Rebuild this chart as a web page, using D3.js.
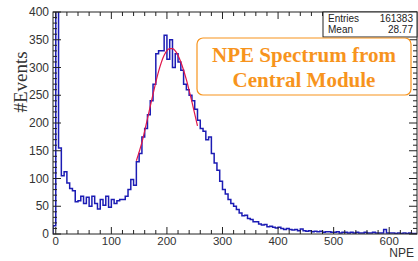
<!DOCTYPE html>
<html>
<head>
<meta charset="utf-8">
<script src="https://cdn.jsdelivr.net/npm/d3@7"></script>
<style>
  body { margin: 0; background: #fff; }
  svg { display: block; }
</style>
</head>
<body>
<svg id="chart" width="418" height="261"></svg>
<script>
// histogram: 5 NPE bins starting at -5
const binStart = -5;
const binWidth = 5;
const counts = [
  15, 1000, 155, 105, 112, 92, 82, 78, 58, 60,
  68, 55, 66, 50, 68, 55, 45, 62, 52, 68,
  48, 62, 55, 60, 62, 62, 68, 80, 98, 88,
  130, 145, 175, 190, 215, 240, 270, 325, 330, 330,
  358, 315, 350, 300, 325, 310, 295, 270, 260, 250,
  240, 225, 205, 190, 185, 170, 175, 145, 128, 115,
  95, 80, 72, 62, 55, 50, 44, 38, 33, 34,
  28, 26, 22, 22, 18, 16, 17, 13, 14, 12,
  11, 12, 10, 8, 10, 8, 7, 8, 6, 9,
  6, 5, 6, 4, 5, 4, 5, 3, 4, 4,
  3, 3, 4, 2, 3, 3, 2, 3, 2, 3,
  2, 2, 3, 2, 2, 3, 2, 2, 2, 8,
  2, 2, 2, 1, 2, 1, 2, 1, 2, 1,
  1
];

// fitted curve
const fitX = [145, 155, 165, 175, 185, 195, 205, 210, 215, 225, 235, 245, 255];
const fitY = [132, 165, 208, 252, 293, 322, 334, 334, 330, 310, 278, 238, 195];

const xTicks = [0, 100, 200, 300, 400, 500, 600];
const yTicks = [0, 50, 100, 150, 200, 250, 300, 350, 400];
const statLabels = ["Entries", "Mean"];
const statValues = ["161383", "28.77"];
const titleLines = ["NPE Spectrum from", "Central Module"];

const svg = d3.select("#chart");
const plotLeft = 53, plotRight = 417, plotTop = 12, plotBottom = 234;

const x = d3.scaleLinear().domain([-5, 650]).range([plotLeft, plotRight]);
const y = d3.scaleLinear().domain([0, 400]).range([plotBottom, plotTop]);

svg.append("defs").append("clipPath").attr("id", "plotClip")
  .append("rect")
  .attr("x", plotLeft).attr("y", plotTop)
  .attr("width", plotRight - plotLeft).attr("height", plotBottom - plotTop);

// step path for the histogram
const stepPoints = [];
counts.forEach((c, i) => {
  const x0 = binStart + i * binWidth;
  stepPoints.push([x0, c], [x0 + binWidth, c]);
});
stepPoints.unshift([binStart, 0]);
stepPoints.push([binStart + counts.length * binWidth, 0]);

const line = d3.line().x((d) => x(d[0])).y((d) => y(d[1]));

const plot = svg.append("g").attr("clip-path", "url(#plotClip)");
plot.append("path")
  .attr("d", line(stepPoints))
  .attr("fill", "none")
  .attr("stroke", "#1c1cb4")
  .attr("stroke-width", 1.5);

plot.append("path")
  .attr("d", d3.line()
    .x((d, i) => x(fitX[i]))
    .y((d) => y(d))
    .curve(d3.curveMonotoneX)(fitY))
  .attr("fill", "none")
  .attr("stroke", "#e0164a")
  .attr("stroke-width", 1.2);

// frame
svg.append("rect")
  .attr("x", plotLeft).attr("y", plotTop)
  .attr("width", plotRight - plotLeft).attr("height", plotBottom - plotTop)
  .attr("fill", "none")
  .attr("stroke", "#222")
  .attr("stroke-width", 1);

// inward ticks, ROOT style
const axes = svg.append("g").attr("stroke", "#222").attr("stroke-width", 1);
d3.range(0, 650, 20).forEach((v) => {
  const len = v % 100 === 0 ? 7 : 4;
  axes.append("line").attr("x1", x(v)).attr("x2", x(v)).attr("y1", plotBottom).attr("y2", plotBottom - len);
  axes.append("line").attr("x1", x(v)).attr("x2", x(v)).attr("y1", plotTop).attr("y2", plotTop + len);
});
d3.range(0, 401, 10).forEach((v) => {
  const len = v % 50 === 0 ? 8 : 4;
  axes.append("line").attr("x1", plotLeft).attr("x2", plotLeft + len).attr("y1", y(v)).attr("y2", y(v));
  axes.append("line").attr("x1", plotRight).attr("x2", plotRight - len).attr("y1", y(v)).attr("y2", y(v));
});

const sans = "Liberation Sans, Arial, sans-serif";

svg.append("g").selectAll("text").data(xTicks).join("text")
  .attr("x", (d) => x(d))
  .attr("y", 245)
  .attr("text-anchor", "middle")
  .attr("font-family", sans).attr("font-size", 11.5).attr("fill", "#333")
  .text((d) => d);

svg.append("g").selectAll("text").data(yTicks).join("text")
  .attr("x", 49)
  .attr("y", (d) => y(d) + 4)
  .attr("text-anchor", "end")
  .attr("font-family", sans).attr("font-size", 12).attr("fill", "#333")
  .text((d) => d);

svg.append("text")
  .attr("x", 414).attr("y", 257)
  .attr("text-anchor", "end")
  .attr("font-family", sans).attr("font-size", 12).attr("fill", "#333")
  .text("NPE");

svg.append("text")
  .attr("transform", "translate(27,82) rotate(-90)")
  .attr("text-anchor", "middle")
  .attr("font-family", "Liberation Serif, Times New Roman, serif")
  .attr("font-size", 19).attr("fill", "#333")
  .text("#Events");

// stats box
const stats = svg.append("g");
stats.append("rect")
  .attr("x", 323).attr("y", plotTop)
  .attr("width", plotRight - 323).attr("height", 25)
  .attr("fill", "#fff").attr("stroke", "#222").attr("stroke-width", 1);
statLabels.forEach((s, i) => {
  stats.append("text").attr("x", 328).attr("y", 22 + i * 11)
    .attr("font-family", sans).attr("font-size", 10).attr("fill", "#222").text(s);
  stats.append("text").attr("x", 413).attr("y", 22 + i * 11)
    .attr("text-anchor", "end")
    .attr("font-family", sans).attr("font-size", 10).attr("fill", "#222").text(statValues[i]);
});

// orange title box
const title = svg.append("g");
title.append("rect")
  .attr("x", 197).attr("y", 38)
  .attr("width", 214).attr("height", 57)
  .attr("rx", 6)
  .attr("fill", "#fff").attr("stroke", "#f7941d").attr("stroke-width", 1.2);
titleLines.forEach((t, i) => {
  title.append("text")
    .attr("x", 304).attr("y", 62 + i * 25)
    .attr("text-anchor", "middle")
    .attr("font-family", "Liberation Serif, Times New Roman, serif")
    .attr("font-weight", "bold").attr("font-size", 21)
    .attr("fill", "#f7941d")
    .text(t);
});
</script>
</body>
</html>
